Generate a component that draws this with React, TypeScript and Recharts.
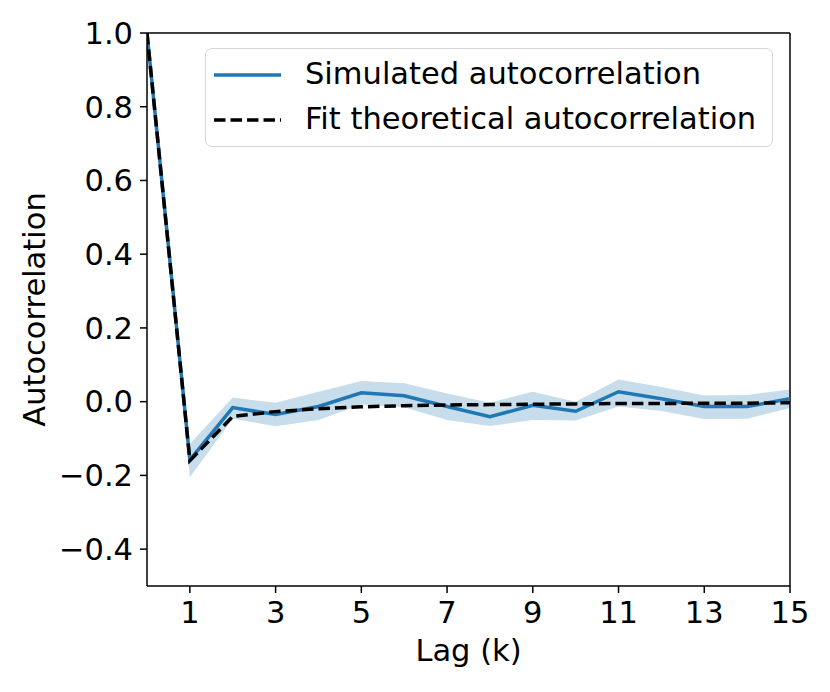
import React from "react";
import {
  Area,
  ComposedChart,
  Line,
  ReferenceLine,
  XAxis,
  YAxis,
} from "recharts";

const lags = [0, 1, 2, 3, 4, 5, 6, 7, 8, 9, 10, 11, 12, 13, 14, 15];
const simulated = [1, -0.158, -0.016, -0.035, -0.013, 0.024, 0.016, -0.013, -0.041, -0.01, -0.026, 0.027, 0.008, -0.013, -0.013, 0.008];
const bandLow = [1, -0.205, -0.046, -0.067, -0.05, -0.008, -0.015, -0.05, -0.066, -0.05, -0.051, -0.013, -0.025, -0.047, -0.046, -0.017];
const bandHigh = [1, -0.115, 0.011, -0.003, 0.027, 0.056, 0.05, 0.022, -0.003, 0.027, 0.0, 0.06, 0.04, 0.017, 0.018, 0.033];
const theoretical = [1, -0.16, -0.04, -0.027, -0.019, -0.014, -0.011, -0.009, -0.008, -0.007, -0.006, -0.005, -0.005, -0.004, -0.004, -0.003];

const xTicks = [1, 3, 5, 7, 9, 11, 13, 15];
const yTicks = [-0.4, -0.2, 0, 0.2, 0.4, 0.6, 0.8, 1.0];

const BLUE = "#1f77b4";
const FONT = "DejaVu Sans, sans-serif";
const FS = 30.5;

const data = lags.map((k, i) => ({
  lag: k,
  sim: simulated[i],
  band: [bandLow[i], bandHigh[i]],
  fit: theoretical[i],
}));

const fmtY = (v: number) => {
  const s = Math.abs(v).toFixed(1);
  return v < -1e-9 ? "\u2212" + s : s;
};

// legend box drawn over the plot, matplotlib "upper right" style
function LegendBox() {
  return (
    <div
      style={{
        position: "absolute",
        left: 197,
        top: 40,
        width: 568,
        height: 99,
        boxSizing: "border-box",
        border: "1.5px solid #d6d6d6",
        borderRadius: 7,
        background: "rgba(255,255,255,0.8)",
        fontFamily: FONT,
        fontSize: FS,
        color: "#000",
      }}
    >
      <svg width={80} height={99} style={{ position: "absolute", left: 0, top: 0 }}>
        <line x1={8} x2={75} y1={26} y2={26} stroke={BLUE} strokeWidth={3.5} />
        <line x1={8} x2={75} y1={71} y2={71} stroke="#000" strokeWidth={3.5} strokeDasharray="11.5 5" />
      </svg>
      <div style={{ position: "absolute", left: 99, top: 26, transform: "translateY(-55%)", whiteSpace: "nowrap" }}>
        Simulated autocorrelation
      </div>
      <div style={{ position: "absolute", left: 99, top: 71, transform: "translateY(-55%)", whiteSpace: "nowrap" }}>
        Fit theoretical autocorrelation
      </div>
    </div>
  );
}

export default function App() {
  return (
    <div style={{ position: "relative", width: 814, height: 676 }}>
      <ComposedChart
        width={814}
        height={676}
        data={data}
        margin={{ top: 25, right: 32, left: 0, bottom: 0 }}
        style={{ fontFamily: FONT }}
      >
        <XAxis
          dataKey="lag"
          type="number"
          domain={[0, 15]}
          ticks={xTicks}
          allowDataOverflow
          height={98}
          tickSize={7}
          tickMargin={8}
          stroke="#000"
          strokeWidth={1.5}
          tick={{ fill: "#000", fontSize: FS, fontFamily: FONT }}
          label={{ value: "Lag (k)", position: "insideBottom", offset: 23, fill: "#000", fontSize: FS, fontFamily: FONT }}
        />
        <YAxis
          type="number"
          domain={[-0.5, 1.0]}
          ticks={yTicks}
          allowDataOverflow
          width={139}
          tickSize={7}
          tickMargin={7}
          tickFormatter={fmtY}
          stroke="#000"
          strokeWidth={1.5}
          tick={{ fill: "#000", fontSize: FS, fontFamily: FONT }}
          label={{
            value: "Autocorrelation",
            angle: -90,
            position: "insideLeft",
            offset: 26,
            fill: "#000",
            fontSize: FS,
            fontFamily: FONT,
            style: { textAnchor: "middle" },
          }}
        />
        <ReferenceLine y={1} stroke="#000" strokeWidth={1.5} ifOverflow="visible" />
        <ReferenceLine x={15} stroke="#000" strokeWidth={1.5} ifOverflow="visible" />
        <Area
          dataKey="band"
          stroke="none"
          fill={BLUE}
          fillOpacity={0.25}
          isAnimationActive={false}
          legendType="none"
        />
        <Line
          dataKey="sim"
          stroke={BLUE}
          strokeWidth={3.5}
          dot={false}
          isAnimationActive={false}
        />
        <Line
          dataKey="fit"
          stroke="#000"
          strokeWidth={3.5}
          strokeDasharray="11.5 5"
          dot={false}
          isAnimationActive={false}
        />
      </ComposedChart>
      <LegendBox />
    </div>
  );
}
